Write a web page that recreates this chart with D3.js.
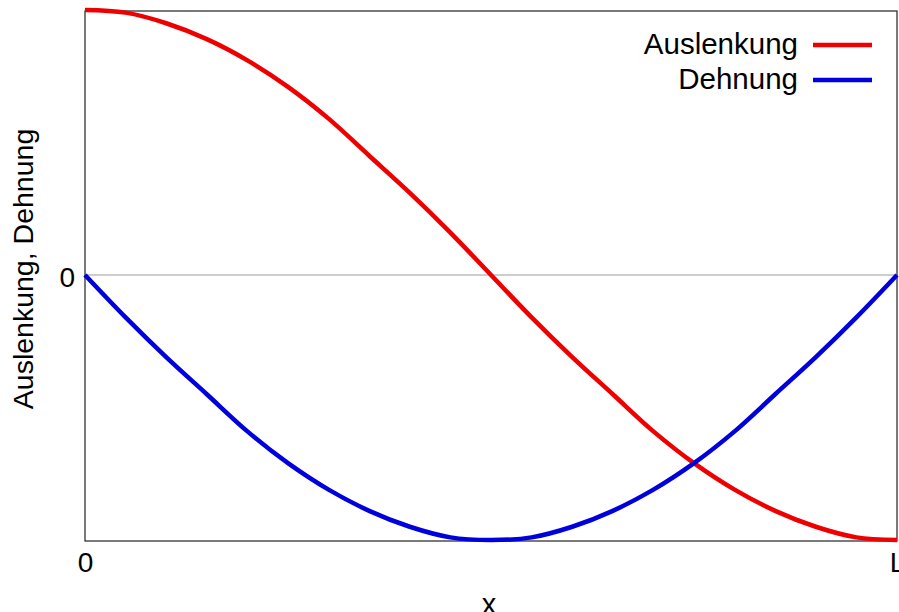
<!DOCTYPE html>
<html>
<head>
<meta charset="utf-8">
<script src="https://cdn.jsdelivr.net/npm/d3@7"></script>
<style>
  html, body { margin: 0; padding: 0; background: #fff; }
  svg { display: block; font-family: "Liberation Sans", Arial, sans-serif; }
</style>
</head>
<body>
<svg id="chart" width="899" height="612"></svg>
<script>
// Position along the rod, as a fraction of its length L
const positions = [0, 0.05, 0.10, 0.15, 0.20, 0.25, 0.30, 0.35, 0.40, 0.45, 0.50,
                   0.55, 0.60, 0.65, 0.70, 0.75, 0.80, 0.85, 0.90, 0.95, 1.00];
// Displacement (Auslenkung), relative
const auslenkung = [1.00, 0.99, 0.95, 0.89, 0.81, 0.71, 0.59, 0.45, 0.31, 0.16, 0.00,
                    -0.16, -0.31, -0.45, -0.59, -0.71, -0.81, -0.89, -0.95, -0.99, -1.00];
// Strain (Dehnung), relative
const dehnung = [0.00, -0.16, -0.31, -0.45, -0.59, -0.71, -0.81, -0.89, -0.95, -0.99, -1.00,
                 -0.99, -0.95, -0.89, -0.81, -0.71, -0.59, -0.45, -0.31, -0.16, 0.00];
const xTickValues = [0, 1];
const xTickLabels = ["0", "L"];
const yTickValues = [0];
const yTickLabels = ["0"];
const seriesNames = ["Auslenkung", "Dehnung"];
const seriesColors = ["#ee0000", "#0000dd"];

const svg = d3.select("#chart");
const plot = { left: 85, right: 897, top: 11, bottom: 541 };
const font = "Liberation Sans, Arial, sans-serif";

const x = d3.scaleLinear().domain([0, 1]).range([plot.left, plot.right]);
const y = d3.scaleLinear().domain([-1, 1]).range([540, 10]);

// zero line
svg.append("line")
  .attr("x1", plot.left).attr("x2", plot.right)
  .attr("y1", y(0)).attr("y2", y(0))
  .attr("stroke", "#bdbdbd").attr("stroke-width", 1.5);

// frame
svg.append("rect")
  .attr("x", plot.left).attr("y", plot.top)
  .attr("width", plot.right - plot.left).attr("height", plot.bottom - plot.top)
  .attr("fill", "none").attr("stroke", "#222").attr("stroke-width", 1.2);

// axes (labels only)
const xAxis = d3.axisBottom(x).tickValues(xTickValues)
  .tickFormat((d, i) => xTickLabels[i]).tickSize(0).tickPadding(11);
const gx = svg.append("g").attr("transform", `translate(0,${plot.bottom})`).call(xAxis);
gx.select(".domain").remove();
gx.selectAll("text").attr("font-size", 28).attr("fill", "#000").attr("font-family", font);

const yAxis = d3.axisLeft(y).tickValues(yTickValues)
  .tickFormat((d, i) => yTickLabels[i]).tickSize(0).tickPadding(10);
const gy = svg.append("g").attr("transform", `translate(${plot.left},0)`).call(yAxis);
gy.select(".domain").remove();
gy.selectAll("text").attr("font-size", 28).attr("fill", "#000").attr("font-family", font)
  .attr("dy", "0.4em");

// axis titles
svg.append("text")
  .attr("x", x(0.5) - 2).attr("y", 614)
  .attr("text-anchor", "middle").attr("font-size", 29).text("x");
svg.append("text")
  .attr("transform", `translate(33,269) rotate(-90)`)
  .attr("text-anchor", "middle").attr("font-size", 28.5).text("Auslenkung, Dehnung");

// curves
const line = d3.line()
  .x((d, i) => x(positions[i]))
  .y(d => y(d))
  .curve(d3.curveCatmullRom.alpha(0.5));

[auslenkung, dehnung].forEach((vals, k) => {
  svg.append("path")
    .attr("d", line(vals))
    .attr("fill", "none")
    .attr("stroke", seriesColors[k])
    .attr("stroke-width", 4.5)
    .attr("stroke-linejoin", "round");
});

// legend
const legend = svg.append("g");
seriesNames.forEach((name, k) => {
  const yy = 45 + k * 35;
  legend.append("text")
    .attr("x", 798).attr("y", yy + 9)
    .attr("text-anchor", "end").attr("font-size", 29.5).text(name);
  legend.append("line")
    .attr("x1", 813).attr("x2", 872).attr("y1", yy).attr("y2", yy)
    .attr("stroke", seriesColors[k]).attr("stroke-width", 4.5);
});
</script>
</body>
</html>
